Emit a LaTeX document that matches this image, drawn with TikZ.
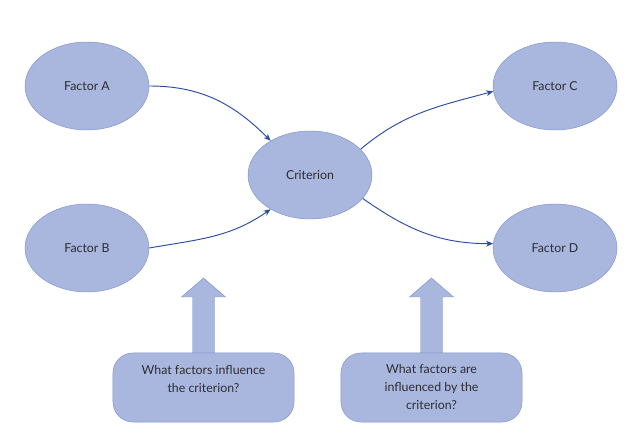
\documentclass[tikz,border=0pt]{standalone}
\usepackage{fontspec}
\setmainfont{Lato}
\usetikzlibrary{shapes,arrows.meta}
\definecolor{bubble}{RGB}{169,182,222}
\definecolor{rim}{RGB}{128,148,206}
\definecolor{link}{RGB}{40,76,164}
\definecolor{ink}{RGB}{45,45,50}

\begin{document}
\begin{tikzpicture}[x=0.85pt,y=0.85pt]
        \tikzstyle{factor}=[ellipse,draw=rim,fill=bubble,text=ink,minimum width=105.4pt,
        minimum height=74.8pt,font=\fontsize{10.5}{12}\selectfont] \tikzstyle{question}=[rectangle,
        rounded corners=17pt,draw=rim,fill=bubble,text=ink,minimum width=153.9pt,
        minimum height=58.7pt,align=center,font=\fontsize{10.5}{15.3}\selectfont]
        \tikzstyle{link}=[draw=link,thick,-{Stealth[length=6pt,width=5pt]}]
        \tikzstyle{uparrow}=[draw=rim,fill=bubble]
        \useasboundingbox (0,0) rectangle (641,441);
        \node[factor] (factorA) at (87,355) {Factor A};
        \node[factor] (factorB) at (87,193) {Factor B};
        \node[factor] (criterion) at (310,266) {Criterion};
        \node[factor] (factorC) at (555,355) {Factor C};
        \node[factor] (factorD) at (555,193) {Factor D};
        \path[link] (factorA.east) to[out=0,in=135] (criterion.139);
        \path[link] (factorB.east) to[out=10,in=215] (criterion.221);
        \path[link] (criterion.27) to[out=40,in=195] (factorC.185);
        \path[link] (criterion.-24) to[out=-35,in=180] (factorD.176);
        \coordinate (tailL) at (203.5,88);
        \coordinate (tailR) at (431.5,88);
        \draw[uparrow,shift={(tailL)}] (-11,0) -- (-11,56) -- (-22,56) -- (0,75) -- (22,56) -- (11,56) -- (11,0);
        \draw[uparrow,shift={(tailR)}] (-11,0) -- (-11,56) -- (-22,56) -- (0,75) -- (22,56) -- (11,56) -- (11,0);
        \node[question] (askL) at (203.5,53.5) {What factors influence\\the criterion?\\\mbox{}};
        \node[question] (askR) at (431.5,53.5) {What factors are\\influenced by the\\criterion?};
      \end{tikzpicture}
\end{document}
